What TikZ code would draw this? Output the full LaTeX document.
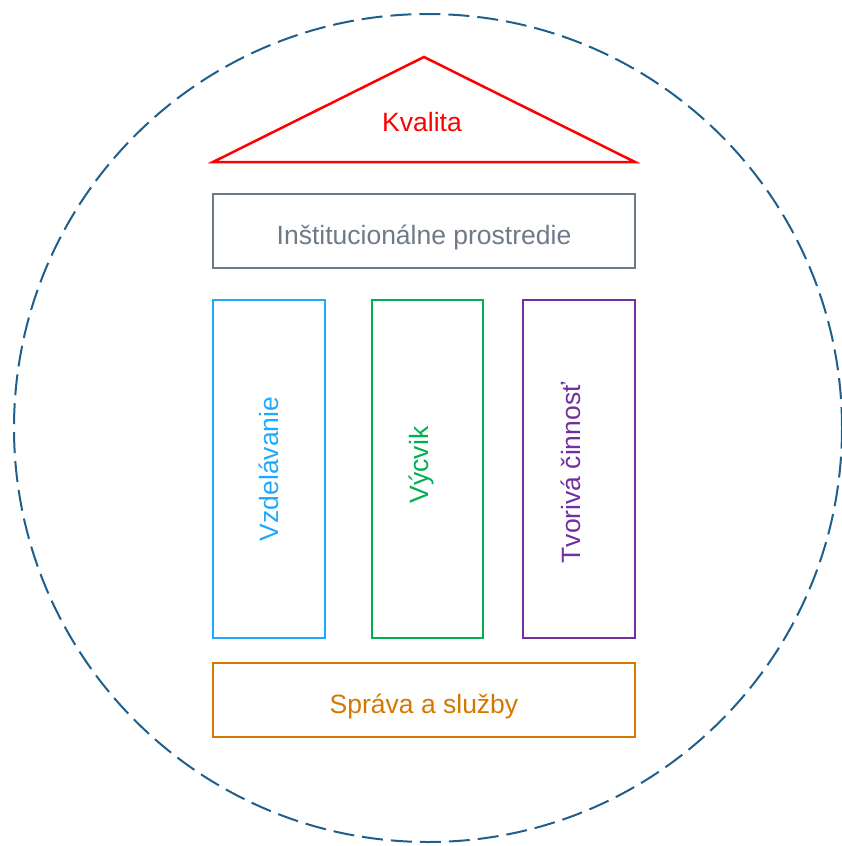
\documentclass[tikz,border=0pt]{standalone}
\usepackage{fontspec}
\setmainfont{Liberation Sans}
\definecolor{ringblue}{RGB}{31,95,139}
\definecolor{roofred}{RGB}{255,0,0}
\definecolor{instgray}{RGB}{110,122,135}
\definecolor{colblue}{RGB}{30,170,255}
\definecolor{colgreen}{RGB}{0,176,80}
\definecolor{colpurple}{RGB}{112,48,160}
\definecolor{baseorange}{RGB}{214,120,0}
\tikzset{
  labelstyle/.style={inner sep=0pt, font=\fontsize{26.5}{30}\selectfont},
  vlabel/.style={labelstyle, rotate=90},
  boxstyle/.style={draw, line width=2pt, rectangle, inner sep=0pt},
  colstyle/.style={boxstyle, minimum width=112pt, minimum height=338pt},
  widestyle/.style={boxstyle, minimum width=422pt, minimum height=74pt},
}
\begin{document}
\begin{tikzpicture}[x=1pt,y=-1pt]
\useasboundingbox (0,0) rectangle (842,846);
% outer dashed ring
\draw[ringblue, line width=2pt, dash pattern=on 21pt off 8pt] (428,428) circle[radius=414pt];
% roof
\coordinate (apex) at (424,57);
\coordinate (roofL) at (213,162);
\coordinate (roofR) at (635,162);
\draw[roofred, line width=2.5pt, line join=miter] (roofL) -- (apex) -- (roofR) -- cycle;
\node[labelstyle, text=roofred] (kvalita) at (422,122) {Kvalita};
% institutional environment
\node[widestyle, draw=instgray] (inst) at (424,231) {};
\node[labelstyle, text=instgray] (instt) at (424,237) {Inštitucionálne prostredie};
% pillars
\node[colstyle, draw=colblue] (vzd) at (269,469) {};
\node[vlabel, text=colblue] (vzdt) at (269,469) {Vzdelávanie};
\node[colstyle, draw=colgreen, minimum width=111pt] (vyc) at (427.5,469) {};
\node[vlabel, text=colgreen] (vyct) at (421,465) {Výcvik};
\node[colstyle, draw=colpurple] (tvo) at (579,469) {};
\node[vlabel, text=colpurple] (tvot) at (571,473) {Tvorivá činnosť};
% base
\node[widestyle, draw=baseorange] (sprava) at (424,700) {};
\node[labelstyle, text=baseorange] (spravat) at (424,706) {Správa a služby};
\end{tikzpicture}
\end{document}
